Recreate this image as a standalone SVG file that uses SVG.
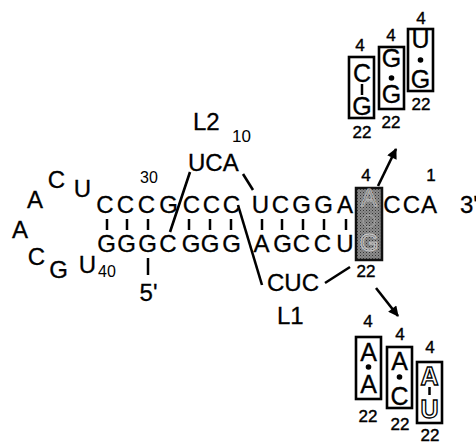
<svg xmlns="http://www.w3.org/2000/svg" width="476" height="442" viewBox="0 0 476 442">
<style>
text{font-family:"Liberation Sans",Arial,sans-serif;fill:#000}
.b{font-size:24px;text-anchor:middle;stroke:#000;stroke-width:0.3}
.s{font-size:16px}
.n{font-size:17px;text-anchor:middle;stroke:#000;stroke-width:0.4}
.bx{font-size:25px;text-anchor:middle;stroke:#000;stroke-width:0.3}
.t{font-size:24px;stroke:#000;stroke-width:0.3}
.ln{stroke:#000;stroke-width:2.6;fill:none}
.tk{stroke:#000;stroke-width:2.5}
.box{fill:#fff;stroke:#000;stroke-width:2.6}
</style>
<defs>
<marker id="ah" viewBox="0 0 10 10" refX="9" refY="5" markerWidth="4.5" markerHeight="4" orient="auto">
<path d="M0,0 L10,5 L0,10 z" fill="#000"/>
</marker>
<pattern id="stip" width="3" height="3" patternUnits="userSpaceOnUse">
<rect width="3" height="3" fill="#8c8c8c"/>
<rect width="1" height="1" fill="#333"/>
<rect x="1.5" y="1.5" width="1" height="1" fill="#555"/>
</pattern>
</defs>

<g id="loop">
<text class="b" x="35" y="208">A</text>
<text class="b" x="56.5" y="188">C</text>
<text class="b" x="82.5" y="197">U</text>
<text class="b" x="20" y="238">A</text>
<text class="b" x="36.5" y="265">C</text>
<text class="b" x="58.5" y="278">G</text>
<text class="b" x="87.5" y="273">U</text>
<text class="s" x="98" y="277">40</text>
</g>

<g id="top-strand">
<text class="s" x="140" y="183">30</text>
<text class="b" x="105" y="213">C</text>
<text class="b" x="125.5" y="213">C</text>
<text class="b" x="146.5" y="213">C</text>
<text class="b" x="168.5" y="213">G</text>
<text class="b" x="191.5" y="213">C</text>
<text class="b" x="211.5" y="213">C</text>
<text class="b" x="231.5" y="213">C</text>
<text class="b" x="260.5" y="213">U</text>
<text class="b" x="280.5" y="213">C</text>
<text class="b" x="301.5" y="213">G</text>
<text class="b" x="323.5" y="213">G</text>
<text class="b" x="345" y="213">A</text>
<text class="b" x="392" y="213">C</text>
<text class="b" x="411.5" y="213">C</text>
<text class="b" x="429" y="213">A</text>
<text class="t" x="460" y="213">3'</text>
<text class="n" x="366" y="181">4</text>
<text class="n" x="431" y="181">1</text>
</g>

<g id="bottom-strand">
<text class="b" x="106.5" y="252">G</text>
<text class="b" x="126.5" y="252">G</text>
<text class="b" x="147.5" y="252">G</text>
<text class="b" x="168" y="252">C</text>
<text class="b" x="191" y="252">G</text>
<text class="b" x="210" y="252">G</text>
<text class="b" x="231.5" y="252">G</text>
<text class="b" x="261.5" y="252">A</text>
<text class="b" x="282.5" y="252">G</text>
<text class="b" x="301.5" y="252">C</text>
<text class="b" x="322.5" y="252">C</text>
<text class="b" x="345" y="252">U</text>
<text class="b" x="148.5" y="301">5'</text>
</g>

<g id="pairs">
<line class="tk" x1="107" y1="219" x2="107" y2="230"/>
<line class="tk" x1="127" y1="219" x2="127" y2="230"/>
<line class="tk" x1="148" y1="219" x2="148" y2="230"/>
<line class="tk" x1="189" y1="219" x2="189" y2="230"/>
<line class="tk" x1="210" y1="219" x2="210" y2="230"/>
<line class="tk" x1="231" y1="219" x2="231" y2="230"/>
<line class="tk" x1="262" y1="219" x2="262" y2="230"/>
<line class="tk" x1="282" y1="219" x2="282" y2="230"/>
<line class="tk" x1="303" y1="219" x2="303" y2="230"/>
<line class="tk" x1="324" y1="219" x2="324" y2="230"/>
<line class="tk" x1="346" y1="219" x2="346" y2="230"/>
<line class="tk" x1="148" y1="258" x2="148" y2="275"/>
</g>

<g id="L2">
<text class="t" x="193" y="130">L2</text>
<text style="font-size:17px" x="232" y="142">10</text>
<text class="t" x="188" y="171">UCA</text>
</g>

<g id="L1">
<text class="t" x="267" y="291">CUC</text>
<text class="t" x="277" y="324">L1</text>
</g>

<g id="site">
<rect x="356" y="188" width="26" height="72" fill="url(#stip)" stroke="#111" stroke-width="2.5"/>
<text x="369" y="206" style="font-size:24px;text-anchor:middle;fill:none;stroke:#bbb;stroke-width:0.8">A</text>
<circle cx="369" cy="221" r="6" fill="none" stroke="#aaa" stroke-width="1"/>
<text x="369" y="251" style="font-size:24px;text-anchor:middle;fill:none;stroke:#ccc;stroke-width:0.9">G</text>
<text class="n" x="366" y="277">22</text>
</g>

<g id="connectors">
<line class="ln" x1="190" y1="172" x2="170" y2="232"/>
<line class="ln" x1="243" y1="174" x2="253" y2="190"/>
<line class="ln" x1="238" y1="205" x2="262" y2="285"/>
<line class="ln" x1="325" y1="283" x2="350" y2="267"/>
<line class="ln" x1="378" y1="186" x2="396" y2="149" marker-end="url(#ah)"/>
<line class="ln" x1="376" y1="288" x2="398" y2="316" marker-end="url(#ah)"/>
</g>

<g id="box-CG">
<rect class="box" x="349" y="57" width="25" height="61"/>
<text class="n" x="360" y="51">4</text>
<text class="bx" x="362" y="82">C</text>
<line class="tk" x1="362" y1="84" x2="362" y2="95"/>
<text class="bx" x="362" y="115">G</text>
<text class="n" x="362" y="138">22</text>
</g>
<g id="box-GG">
<rect class="box" x="379" y="47" width="25" height="62"/>
<text class="n" x="391" y="41">4</text>
<text class="bx" x="391.5" y="67">G</text>
<circle cx="391.5" cy="78" r="2.8"/>
<text class="bx" x="391.5" y="103">G</text>
<text class="n" x="391" y="128">22</text>
</g>
<g id="box-UG">
<rect class="box" x="408" y="29" width="25" height="62"/>
<text class="n" x="421" y="24">4</text>
<text class="bx" x="420.5" y="48">U</text>
<circle cx="420.5" cy="60" r="2.8"/>
<text class="bx" x="420.5" y="88">G</text>
<text class="n" x="421" y="110">22</text>
</g>

<g id="box-AA">
<rect class="box" x="356" y="337" width="25" height="62"/>
<text class="n" x="368" y="327">4</text>
<text class="bx" x="368.5" y="361">A</text>
<circle cx="368.5" cy="367" r="2.8"/>
<text class="bx" x="368.5" y="393">A</text>
<text class="n" x="368" y="422">22</text>
</g>
<g id="box-AC">
<rect class="box" x="387" y="347" width="25" height="61"/>
<text class="n" x="400" y="340">4</text>
<text class="bx" x="399.5" y="370">A</text>
<circle cx="399.5" cy="377" r="2.8"/>
<text class="bx" x="399.5" y="405">C</text>
<text class="n" x="400" y="430">22</text>
</g>
<g id="box-AU">
<rect class="box" x="417" y="362" width="25" height="61"/>
<text class="n" x="430" y="353">4</text>
<text x="429.5" y="385" style="font-size:25px;text-anchor:middle;fill:#fff;stroke:#000;stroke-width:1.3;font-weight:bold">A</text>
<line class="tk" x1="429.5" y1="387" x2="429.5" y2="395"/>
<text x="429.5" y="418" style="font-size:25px;text-anchor:middle;fill:#fff;stroke:#000;stroke-width:1.3;font-weight:bold">U</text>
<text class="n" x="430" y="441">22</text>
</g>
</svg>
